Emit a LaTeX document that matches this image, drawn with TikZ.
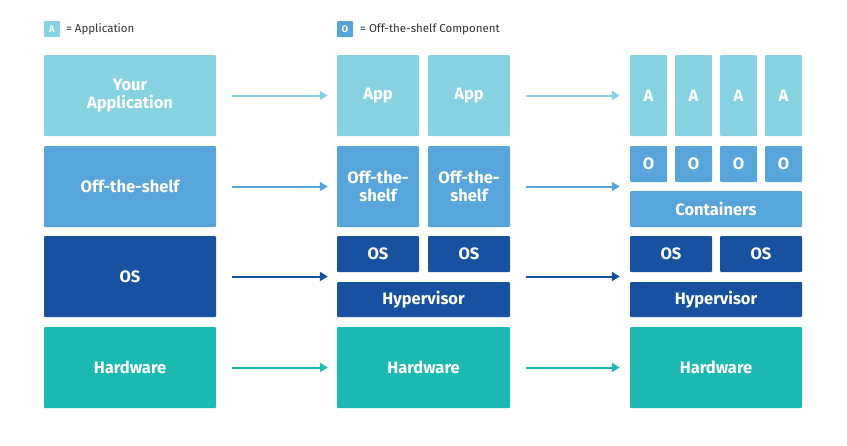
\documentclass[tikz,border=0pt]{standalone}
\usepackage{fontspec}
\setmainfont{Fira Sans}
\usetikzlibrary{arrows.meta}
\definecolor{cApp}{HTML}{87D2E3}
\definecolor{cOts}{HTML}{58A5DC}
\definecolor{cOS}{HTML}{1751A0}
\definecolor{cHW}{HTML}{1CBAB3}
\definecolor{cTxt}{HTML}{333333}
\tikzset{
  blk/.style={draw=none, rounded corners=1pt, text=white, font=\bfseries\fontsize{16.5}{18}\selectfont, align=center, inner sep=0pt},
  lg/.style={draw=none, rounded corners=1pt, text=white, font=\bfseries\fontsize{9.5}{10}\selectfont, inner sep=0pt, minimum size=16pt},
  lgt/.style={text=cTxt, font=\fontsize{11.5}{13}\selectfont, anchor=west, inner sep=0pt},
  arr/.style={line width=2pt, -{Triangle[length=8pt,width=9pt]}},
}
\begin{document}
\begin{tikzpicture}[x=1pt,y=-1pt]
\useasboundingbox (0,0) rectangle (847,445);
% legend
\node[lg, fill=cApp] (lgA) at (52,29) {A};
\node[lgt] (lgAt) at (66,29.5) {= Application};
\node[lg, fill=cOts] (lgO) at (345,29) {O};
\node[lgt] (lgOt) at (360,29.5) {= Off-the-shelf Component};
% left column
\node[blk, fill=cApp, minimum width=172pt, minimum height=81pt] (L1) at (130,95.5) {Your\\Application};
\node[blk, fill=cOts, minimum width=172pt, minimum height=81pt] (L2) at (130,186.5) {Off-the-shelf};
\node[blk, fill=cOS, minimum width=172pt, minimum height=81pt] (L3) at (130,276.5) {OS};
\node[blk, fill=cHW, minimum width=172pt, minimum height=81pt] (L4) at (130,367.5) {Hardware};
% middle column
\node[blk, fill=cApp, minimum width=82pt, minimum height=81pt] (M1a) at (378,95.5) {App};
\node[blk, fill=cApp, minimum width=82pt, minimum height=81pt] (M1b) at (469,95.5) {App};
\node[blk, fill=cOts, minimum width=82pt, minimum height=81pt] (M2a) at (378,186.5) {Off-the-\\shelf};
\node[blk, fill=cOts, minimum width=82pt, minimum height=81pt] (M2b) at (469,186.5) {Off-the-\\shelf};
\node[blk, fill=cOS, minimum width=82pt, minimum height=36pt] (M3a) at (378,254) {OS};
\node[blk, fill=cOS, minimum width=82pt, minimum height=36pt] (M3b) at (469,254) {OS};
\node[blk, fill=cOS, minimum width=173pt, minimum height=35pt] (M3c) at (423.5,299.5) {Hypervisor};
\node[blk, fill=cHW, minimum width=173pt, minimum height=81pt] (M4) at (423.5,367.5) {Hardware};
% right column
\foreach \i/\cx in {1/648.5,2/693.5,3/738.5,4/783.5}{
  \node[blk, fill=cApp, minimum width=37pt, minimum height=81pt] (RA\i) at (\cx,95.5) {A};
  \node[blk, fill=cOts, minimum width=37pt, minimum height=36pt] (RO\i) at (\cx,164) {O};
}
\node[blk, fill=cOts, minimum width=172pt, minimum height=36pt] (RC) at (716,209) {Containers};
\node[blk, fill=cOS, minimum width=82pt, minimum height=36pt] (R3a) at (671,254) {OS};
\node[blk, fill=cOS, minimum width=82pt, minimum height=36pt] (R3b) at (761,254) {OS};
\node[blk, fill=cOS, minimum width=172pt, minimum height=35pt] (R3c) at (716,299.5) {Hypervisor};
\node[blk, fill=cHW, minimum width=172pt, minimum height=81pt] (R4) at (716,367.5) {Hardware};
% arrows left -> middle
\draw[arr, cApp] ([xshift=16pt]L1.east) -- ([xshift=-9pt]M1a.west |- L1.east);
\draw[arr, cOts] ([xshift=16pt]L2.east) -- ([xshift=-9pt]M2a.west |- L2.east);
\draw[arr, cOS]  ([xshift=16pt]L3.east) -- ([xshift=-9pt]M3a.west |- L3.east);
\draw[arr, cHW]  ([xshift=16pt]L4.east) -- ([xshift=-9pt]M4.west |- L4.east);
% arrows middle -> right
\draw[arr, cApp] ([xshift=16pt]M1b.east) -- ([xshift=-10pt]RA1.west |- M1b.east);
\draw[arr, cOts] ([xshift=16pt]M2b.east) -- ([xshift=-10pt]RO1.west |- M2b.east);
\draw[arr, cOS]  ([xshift=16pt]M3c.east |- L3.east) -- ([xshift=-10pt]R3a.west |- L3.east);
\draw[arr, cHW]  ([xshift=16pt]M4.east) -- ([xshift=-10pt]R4.west |- M4.east);
\end{tikzpicture}
\end{document}
